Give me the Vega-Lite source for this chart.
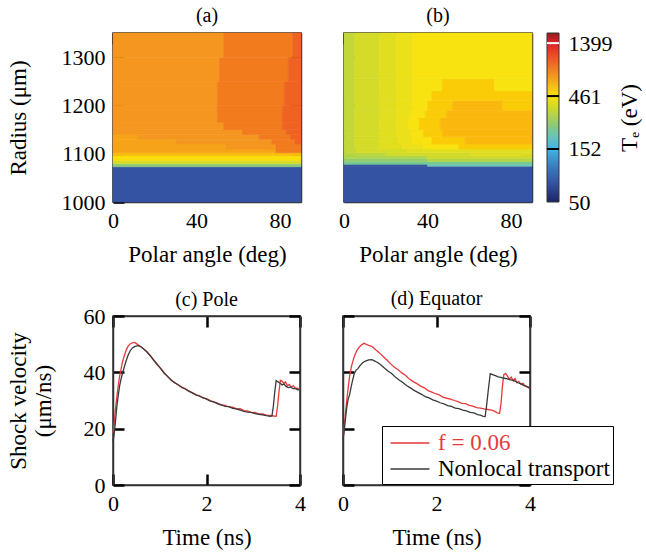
{
  "$schema": "https://vega.github.io/schema/vega-lite/v6.json",
  "background": "white",
  "padding": {"left": 6, "top": 5, "right": 2, "bottom": 2},
  "spacing": 21,
  "config": {
    "font": "Liberation Serif",
    "view": {"stroke": "#333", "strokeWidth": 1.5},
    "axis": {
      "labelFont": "Liberation Serif", "titleFont": "Liberation Serif",
      "labelFontSize": 22, "titleFontSize": 23, "titleFontWeight": "normal",
      "labelColor": "black", "titleColor": "black",
      "tickColor": "black", "tickWidth": 2.5, "tickSize": -11,
      "labelPadding": 19, "labelFlush": false, "labelOverlap": false,
      "domain": true, "domainColor": "#333", "domainWidth": 1.5,
      "grid": false, "zindex": 1, "titlePadding": 12
    },
    "title": {"font": "Liberation Serif", "fontSize": 20, "fontWeight": "normal", "color": "black", "offset": 6, "frame": "group"}
  },
  "datasets": {
    "heatA": [
      {"a0":0,"a1":90,"r0":1000,"r1":1073,"T":75},
      {"a0":0,"a1":90,"r0":1073,"r1":1079,"T":250},
      {"a0":0,"a1":90,"r0":1079,"r1":1086,"T":380},
      {"a0":0,"a1":90,"r0":1086,"r1":1096,"T":470},
      {"a0":0,"a1":90,"r0":1096,"r1":1102,"T":560},
      {"a0":0,"a1":78,"r0":1102,"r1":1110,"T":650},
      {"a0":78,"a1":90,"r0":1102,"r1":1110,"T":830},
      {"a0":0,"a1":54,"r0":1110,"r1":1120,"T":650},
      {"a0":54,"a1":78,"r0":1110,"r1":1120,"T":700},
      {"a0":78,"a1":90,"r0":1110,"r1":1120,"T":830},
      {"a0":0,"a1":30,"r0":1120,"r1":1130,"T":650},
      {"a0":30,"a1":76,"r0":1120,"r1":1130,"T":700},
      {"a0":76,"a1":87,"r0":1120,"r1":1130,"T":830},
      {"a0":87,"a1":90,"r0":1120,"r1":1130,"T":950},
      {"a0":0,"a1":12,"r0":1130,"r1":1140,"T":650},
      {"a0":12,"a1":70,"r0":1130,"r1":1140,"T":700},
      {"a0":70,"a1":85,"r0":1130,"r1":1140,"T":830},
      {"a0":85,"a1":90,"r0":1130,"r1":1140,"T":950},
      {"a0":0,"a1":62,"r0":1140,"r1":1150,"T":700},
      {"a0":62,"a1":83,"r0":1140,"r1":1150,"T":830},
      {"a0":83,"a1":90,"r0":1140,"r1":1150,"T":950},
      {"a0":0,"a1":53,"r0":1150,"r1":1165,"T":700},
      {"a0":53,"a1":81,"r0":1150,"r1":1165,"T":830},
      {"a0":81,"a1":90,"r0":1150,"r1":1165,"T":950},
      {"a0":0,"a1":50,"r0":1165,"r1":1200,"T":700},
      {"a0":50,"a1":81,"r0":1165,"r1":1200,"T":830},
      {"a0":81,"a1":90,"r0":1165,"r1":1200,"T":950},
      {"a0":0,"a1":50,"r0":1200,"r1":1250,"T":700},
      {"a0":50,"a1":82,"r0":1200,"r1":1250,"T":830},
      {"a0":82,"a1":90,"r0":1200,"r1":1250,"T":950},
      {"a0":0,"a1":51,"r0":1250,"r1":1300,"T":700},
      {"a0":51,"a1":84,"r0":1250,"r1":1300,"T":830},
      {"a0":84,"a1":90,"r0":1250,"r1":1300,"T":950},
      {"a0":0,"a1":53,"r0":1300,"r1":1350,"T":700},
      {"a0":53,"a1":86,"r0":1300,"r1":1350,"T":830},
      {"a0":86,"a1":90,"r0":1300,"r1":1350,"T":950}
    ],
    "heatB": [
      {"a0":0,"a1":90,"r0":1000,"r1":1074,"T":75},
      {"a0":0,"a1":40,"r0":1074,"r1":1078,"T":75},
      {"a0":40,"a1":90,"r0":1074,"r1":1078,"T":200},
      {"a0":0,"a1":90,"r0":1078,"r1":1084,"T":230},
      {"a0":0,"a1":40,"r0":1084,"r1":1090,"T":270},
      {"a0":40,"a1":90,"r0":1084,"r1":1090,"T":320},
      {"a0":0,"a1":40,"r0":1090,"r1":1096,"T":310},
      {"a0":40,"a1":90,"r0":1090,"r1":1096,"T":360},
      {"a0":0,"a1":20,"r0":1096,"r1":1102,"T":330},
      {"a0":20,"a1":60,"r0":1096,"r1":1102,"T":370},
      {"a0":60,"a1":90,"r0":1096,"r1":1102,"T":400},
      {"a0":0,"a1":6,"r0":1102,"r1":1110,"T":340},
      {"a0":6,"a1":30,"r0":1102,"r1":1110,"T":375},
      {"a0":30,"a1":90,"r0":1102,"r1":1110,"T":405},
      {"a0":0,"a1":5,"r0":1110,"r1":1120,"T":340},
      {"a0":5,"a1":17,"r0":1110,"r1":1120,"T":375},
      {"a0":17,"a1":28,"r0":1110,"r1":1120,"T":405},
      {"a0":28,"a1":38,"r0":1110,"r1":1120,"T":430},
      {"a0":38,"a1":55,"r0":1110,"r1":1120,"T":461},
      {"a0":55,"a1":90,"r0":1110,"r1":1120,"T":520},
      {"a0":0,"a1":5,"r0":1120,"r1":1135,"T":340},
      {"a0":5,"a1":17,"r0":1120,"r1":1135,"T":375},
      {"a0":17,"a1":26,"r0":1120,"r1":1135,"T":405},
      {"a0":26,"a1":33,"r0":1120,"r1":1135,"T":430},
      {"a0":33,"a1":42,"r0":1120,"r1":1135,"T":461},
      {"a0":42,"a1":58,"r0":1120,"r1":1135,"T":520},
      {"a0":58,"a1":90,"r0":1120,"r1":1135,"T":580},
      {"a0":0,"a1":5,"r0":1135,"r1":1150,"T":340},
      {"a0":5,"a1":17,"r0":1135,"r1":1150,"T":375},
      {"a0":17,"a1":25,"r0":1135,"r1":1150,"T":405},
      {"a0":25,"a1":32,"r0":1135,"r1":1150,"T":430},
      {"a0":32,"a1":38,"r0":1135,"r1":1150,"T":461},
      {"a0":38,"a1":47,"r0":1135,"r1":1150,"T":520},
      {"a0":47,"a1":90,"r0":1135,"r1":1150,"T":580},
      {"a0":0,"a1":5,"r0":1150,"r1":1175,"T":340},
      {"a0":5,"a1":17,"r0":1150,"r1":1175,"T":375},
      {"a0":17,"a1":25,"r0":1150,"r1":1175,"T":405},
      {"a0":25,"a1":31,"r0":1150,"r1":1175,"T":430},
      {"a0":31,"a1":36,"r0":1150,"r1":1175,"T":461},
      {"a0":36,"a1":46,"r0":1150,"r1":1175,"T":520},
      {"a0":46,"a1":90,"r0":1150,"r1":1175,"T":580},
      {"a0":0,"a1":5,"r0":1175,"r1":1190,"T":340},
      {"a0":5,"a1":17,"r0":1175,"r1":1190,"T":375},
      {"a0":17,"a1":25,"r0":1175,"r1":1190,"T":405},
      {"a0":25,"a1":32,"r0":1175,"r1":1190,"T":430},
      {"a0":32,"a1":39,"r0":1175,"r1":1190,"T":461},
      {"a0":39,"a1":49,"r0":1175,"r1":1190,"T":520},
      {"a0":49,"a1":90,"r0":1175,"r1":1190,"T":580},
      {"a0":0,"a1":5,"r0":1190,"r1":1210,"T":340},
      {"a0":5,"a1":17,"r0":1190,"r1":1210,"T":375},
      {"a0":17,"a1":25,"r0":1190,"r1":1210,"T":405},
      {"a0":25,"a1":33,"r0":1190,"r1":1210,"T":430},
      {"a0":33,"a1":40,"r0":1190,"r1":1210,"T":461},
      {"a0":40,"a1":52,"r0":1190,"r1":1210,"T":520},
      {"a0":52,"a1":76,"r0":1190,"r1":1210,"T":580},
      {"a0":76,"a1":90,"r0":1190,"r1":1210,"T":520},
      {"a0":0,"a1":5,"r0":1210,"r1":1230,"T":340},
      {"a0":5,"a1":17,"r0":1210,"r1":1230,"T":375},
      {"a0":17,"a1":25,"r0":1210,"r1":1230,"T":405},
      {"a0":25,"a1":33,"r0":1210,"r1":1230,"T":430},
      {"a0":33,"a1":42,"r0":1210,"r1":1230,"T":461},
      {"a0":42,"a1":90,"r0":1210,"r1":1230,"T":520},
      {"a0":0,"a1":5,"r0":1230,"r1":1255,"T":340},
      {"a0":5,"a1":17,"r0":1230,"r1":1255,"T":375},
      {"a0":17,"a1":25,"r0":1230,"r1":1255,"T":405},
      {"a0":25,"a1":33,"r0":1230,"r1":1255,"T":430},
      {"a0":33,"a1":47,"r0":1230,"r1":1255,"T":461},
      {"a0":47,"a1":72,"r0":1230,"r1":1255,"T":520},
      {"a0":72,"a1":90,"r0":1230,"r1":1255,"T":461},
      {"a0":0,"a1":5,"r0":1255,"r1":1350,"T":340},
      {"a0":5,"a1":17,"r0":1255,"r1":1350,"T":375},
      {"a0":17,"a1":25,"r0":1255,"r1":1350,"T":405},
      {"a0":25,"a1":33,"r0":1255,"r1":1350,"T":430},
      {"a0":33,"a1":90,"r0":1255,"r1":1350,"T":461}
    ],
    "lineC": [
      {"model":"f = 0.06","t":0,"v":18.5},{"model":"f = 0.06","t":0.02,"v":21},{"model":"f = 0.06","t":0.05,"v":26.5},{"model":"f = 0.06","t":0.08,"v":31},{"model":"f = 0.06","t":0.11,"v":35},{"model":"f = 0.06","t":0.14,"v":38.5},{"model":"f = 0.06","t":0.17,"v":41},{"model":"f = 0.06","t":0.2,"v":43.5},{"model":"f = 0.06","t":0.24,"v":45.8},{"model":"f = 0.06","t":0.28,"v":47.8},{"model":"f = 0.06","t":0.32,"v":49.2},{"model":"f = 0.06","t":0.36,"v":50.0},{"model":"f = 0.06","t":0.41,"v":50.5},{"model":"f = 0.06","t":0.46,"v":50.6},{"model":"f = 0.06","t":0.5,"v":50.2},{"model":"f = 0.06","t":0.55,"v":49.6},{"model":"f = 0.06","t":0.6,"v":49.0},{"model":"f = 0.06","t":0.66,"v":48.3},{"model":"f = 0.06","t":0.72,"v":47.3},{"model":"f = 0.06","t":0.8,"v":45.8},{"model":"f = 0.06","t":0.88,"v":44.2},{"model":"f = 0.06","t":0.95,"v":42.6},{"model":"f = 0.06","t":1.02,"v":41.4},{"model":"f = 0.06","t":1.1,"v":39.8},{"model":"f = 0.06","t":1.18,"v":38.2},{"model":"f = 0.06","t":1.25,"v":37.3},{"model":"f = 0.06","t":1.32,"v":36.2},{"model":"f = 0.06","t":1.4,"v":35.6},{"model":"f = 0.06","t":1.48,"v":34.5},{"model":"f = 0.06","t":1.55,"v":34.2},{"model":"f = 0.06","t":1.62,"v":33.2},{"model":"f = 0.06","t":1.7,"v":32.8},{"model":"f = 0.06","t":1.78,"v":31.9},{"model":"f = 0.06","t":1.85,"v":31.7},{"model":"f = 0.06","t":1.92,"v":30.9},{"model":"f = 0.06","t":2.0,"v":30.7},{"model":"f = 0.06","t":2.08,"v":30.0},{"model":"f = 0.06","t":2.16,"v":29.4},{"model":"f = 0.06","t":2.24,"v":29.1},{"model":"f = 0.06","t":2.32,"v":28.4},{"model":"f = 0.06","t":2.4,"v":28.3},{"model":"f = 0.06","t":2.48,"v":27.7},{"model":"f = 0.06","t":2.56,"v":27.6},{"model":"f = 0.06","t":2.64,"v":27.0},{"model":"f = 0.06","t":2.72,"v":27.1},{"model":"f = 0.06","t":2.8,"v":26.4},{"model":"f = 0.06","t":2.88,"v":26.3},{"model":"f = 0.06","t":2.96,"v":25.7},{"model":"f = 0.06","t":3.04,"v":25.8},{"model":"f = 0.06","t":3.12,"v":25.2},{"model":"f = 0.06","t":3.2,"v":25.2},{"model":"f = 0.06","t":3.28,"v":24.8},{"model":"f = 0.06","t":3.36,"v":24.7},{"model":"f = 0.06","t":3.44,"v":24.5},{"model":"f = 0.06","t":3.49,"v":24.4},{"model":"f = 0.06","t":3.52,"v":28},{"model":"f = 0.06","t":3.55,"v":33},{"model":"f = 0.06","t":3.58,"v":37.2},{"model":"f = 0.06","t":3.62,"v":36.8},{"model":"f = 0.06","t":3.65,"v":36.0},{"model":"f = 0.06","t":3.69,"v":36.6},{"model":"f = 0.06","t":3.73,"v":35.2},{"model":"f = 0.06","t":3.77,"v":35.7},{"model":"f = 0.06","t":3.81,"v":34.8},{"model":"f = 0.06","t":3.86,"v":35.2},{"model":"f = 0.06","t":3.9,"v":34.3},{"model":"f = 0.06","t":3.95,"v":34.4},{"model":"f = 0.06","t":4.0,"v":33.8},
      {"model":"Nonlocal transport","t":0,"v":15.5},{"model":"Nonlocal transport","t":0.02,"v":17.5},{"model":"Nonlocal transport","t":0.05,"v":22},{"model":"Nonlocal transport","t":0.08,"v":27.5},{"model":"Nonlocal transport","t":0.11,"v":31.5},{"model":"Nonlocal transport","t":0.14,"v":35},{"model":"Nonlocal transport","t":0.17,"v":37.5},{"model":"Nonlocal transport","t":0.2,"v":39.5},{"model":"Nonlocal transport","t":0.24,"v":41.8},{"model":"Nonlocal transport","t":0.28,"v":44},{"model":"Nonlocal transport","t":0.32,"v":46},{"model":"Nonlocal transport","t":0.36,"v":47.4},{"model":"Nonlocal transport","t":0.41,"v":48.6},{"model":"Nonlocal transport","t":0.47,"v":49.2},{"model":"Nonlocal transport","t":0.54,"v":49.5},{"model":"Nonlocal transport","t":0.6,"v":49.1},{"model":"Nonlocal transport","t":0.66,"v":48.2},{"model":"Nonlocal transport","t":0.72,"v":47.4},{"model":"Nonlocal transport","t":0.8,"v":45.9},{"model":"Nonlocal transport","t":0.88,"v":44.1},{"model":"Nonlocal transport","t":0.95,"v":42.8},{"model":"Nonlocal transport","t":1.02,"v":41.3},{"model":"Nonlocal transport","t":1.1,"v":39.6},{"model":"Nonlocal transport","t":1.18,"v":38.4},{"model":"Nonlocal transport","t":1.25,"v":37.1},{"model":"Nonlocal transport","t":1.32,"v":36.4},{"model":"Nonlocal transport","t":1.4,"v":35.4},{"model":"Nonlocal transport","t":1.48,"v":34.7},{"model":"Nonlocal transport","t":1.55,"v":34.0},{"model":"Nonlocal transport","t":1.62,"v":33.4},{"model":"Nonlocal transport","t":1.7,"v":32.6},{"model":"Nonlocal transport","t":1.78,"v":32.0},{"model":"Nonlocal transport","t":1.85,"v":31.5},{"model":"Nonlocal transport","t":1.92,"v":31.0},{"model":"Nonlocal transport","t":2.0,"v":30.5},{"model":"Nonlocal transport","t":2.08,"v":29.8},{"model":"Nonlocal transport","t":2.16,"v":29.5},{"model":"Nonlocal transport","t":2.24,"v":28.8},{"model":"Nonlocal transport","t":2.32,"v":28.4},{"model":"Nonlocal transport","t":2.4,"v":27.9},{"model":"Nonlocal transport","t":2.48,"v":27.8},{"model":"Nonlocal transport","t":2.56,"v":27.2},{"model":"Nonlocal transport","t":2.64,"v":27.0},{"model":"Nonlocal transport","t":2.72,"v":26.6},{"model":"Nonlocal transport","t":2.8,"v":26.1},{"model":"Nonlocal transport","t":2.88,"v":25.9},{"model":"Nonlocal transport","t":2.96,"v":25.8},{"model":"Nonlocal transport","t":3.04,"v":25.3},{"model":"Nonlocal transport","t":3.12,"v":25.1},{"model":"Nonlocal transport","t":3.2,"v":24.9},{"model":"Nonlocal transport","t":3.28,"v":24.6},{"model":"Nonlocal transport","t":3.36,"v":24.4},{"model":"Nonlocal transport","t":3.4,"v":24.5},{"model":"Nonlocal transport","t":3.43,"v":28},{"model":"Nonlocal transport","t":3.46,"v":33},{"model":"Nonlocal transport","t":3.49,"v":37.1},{"model":"Nonlocal transport","t":3.53,"v":36.6},{"model":"Nonlocal transport","t":3.57,"v":36.2},{"model":"Nonlocal transport","t":3.62,"v":35.5},{"model":"Nonlocal transport","t":3.66,"v":35.8},{"model":"Nonlocal transport","t":3.7,"v":35.0},{"model":"Nonlocal transport","t":3.75,"v":34.6},{"model":"Nonlocal transport","t":3.8,"v":34.8},{"model":"Nonlocal transport","t":3.85,"v":34.2},{"model":"Nonlocal transport","t":3.9,"v":34.3},{"model":"Nonlocal transport","t":3.95,"v":33.8},{"model":"Nonlocal transport","t":4.0,"v":33.8}
    ],
    "lineD": [
      {"model":"f = 0.06","t":0,"v":17},{"model":"f = 0.06","t":0.02,"v":19.5},{"model":"f = 0.06","t":0.05,"v":25},{"model":"f = 0.06","t":0.08,"v":30},{"model":"f = 0.06","t":0.11,"v":34.5},{"model":"f = 0.06","t":0.14,"v":38.5},{"model":"f = 0.06","t":0.18,"v":42},{"model":"f = 0.06","t":0.22,"v":44.5},{"model":"f = 0.06","t":0.26,"v":46.4},{"model":"f = 0.06","t":0.3,"v":47.8},{"model":"f = 0.06","t":0.35,"v":49.0},{"model":"f = 0.06","t":0.4,"v":49.8},{"model":"f = 0.06","t":0.45,"v":50.3},{"model":"f = 0.06","t":0.5,"v":49.9},{"model":"f = 0.06","t":0.55,"v":49.6},{"model":"f = 0.06","t":0.6,"v":49.3},{"model":"f = 0.06","t":0.65,"v":48.8},{"model":"f = 0.06","t":0.7,"v":48.0},{"model":"f = 0.06","t":0.78,"v":46.9},{"model":"f = 0.06","t":0.86,"v":45.6},{"model":"f = 0.06","t":0.94,"v":44.4},{"model":"f = 0.06","t":1.02,"v":43.0},{"model":"f = 0.06","t":1.1,"v":41.8},{"model":"f = 0.06","t":1.18,"v":40.9},{"model":"f = 0.06","t":1.26,"v":39.8},{"model":"f = 0.06","t":1.34,"v":38.9},{"model":"f = 0.06","t":1.42,"v":37.6},{"model":"f = 0.06","t":1.5,"v":36.7},{"model":"f = 0.06","t":1.58,"v":36.0},{"model":"f = 0.06","t":1.66,"v":35.1},{"model":"f = 0.06","t":1.74,"v":34.5},{"model":"f = 0.06","t":1.82,"v":33.5},{"model":"f = 0.06","t":1.9,"v":33.0},{"model":"f = 0.06","t":1.98,"v":32.4},{"model":"f = 0.06","t":2.06,"v":32.0},{"model":"f = 0.06","t":2.14,"v":31.2},{"model":"f = 0.06","t":2.22,"v":30.8},{"model":"f = 0.06","t":2.3,"v":30.5},{"model":"f = 0.06","t":2.38,"v":30.0},{"model":"f = 0.06","t":2.46,"v":29.6},{"model":"f = 0.06","t":2.54,"v":29.0},{"model":"f = 0.06","t":2.62,"v":28.9},{"model":"f = 0.06","t":2.7,"v":28.3},{"model":"f = 0.06","t":2.78,"v":28.0},{"model":"f = 0.06","t":2.86,"v":27.5},{"model":"f = 0.06","t":2.94,"v":27.3},{"model":"f = 0.06","t":3.02,"v":27.0},{"model":"f = 0.06","t":3.1,"v":26.8},{"model":"f = 0.06","t":3.18,"v":26.6},{"model":"f = 0.06","t":3.24,"v":26.2},{"model":"f = 0.06","t":3.3,"v":25.6},{"model":"f = 0.06","t":3.35,"v":25.4},{"model":"f = 0.06","t":3.38,"v":29},{"model":"f = 0.06","t":3.41,"v":35},{"model":"f = 0.06","t":3.44,"v":39.2},{"model":"f = 0.06","t":3.48,"v":39.6},{"model":"f = 0.06","t":3.52,"v":38.6},{"model":"f = 0.06","t":3.56,"v":37.6},{"model":"f = 0.06","t":3.6,"v":38.3},{"model":"f = 0.06","t":3.64,"v":37.0},{"model":"f = 0.06","t":3.68,"v":37.8},{"model":"f = 0.06","t":3.72,"v":36.3},{"model":"f = 0.06","t":3.76,"v":36.8},{"model":"f = 0.06","t":3.8,"v":35.8},{"model":"f = 0.06","t":3.85,"v":36.1},{"model":"f = 0.06","t":3.9,"v":35.0},{"model":"f = 0.06","t":3.95,"v":34.8},{"model":"f = 0.06","t":4.0,"v":34.3},
      {"model":"Nonlocal transport","t":0,"v":16},{"model":"Nonlocal transport","t":0.02,"v":18.5},{"model":"Nonlocal transport","t":0.05,"v":23},{"model":"Nonlocal transport","t":0.08,"v":27.5},{"model":"Nonlocal transport","t":0.11,"v":30.5},{"model":"Nonlocal transport","t":0.14,"v":32},{"model":"Nonlocal transport","t":0.17,"v":34.5},{"model":"Nonlocal transport","t":0.2,"v":36.8},{"model":"Nonlocal transport","t":0.24,"v":39.5},{"model":"Nonlocal transport","t":0.28,"v":40.8},{"model":"Nonlocal transport","t":0.32,"v":41.3},{"model":"Nonlocal transport","t":0.36,"v":42.3},{"model":"Nonlocal transport","t":0.42,"v":43.4},{"model":"Nonlocal transport","t":0.48,"v":44.0},{"model":"Nonlocal transport","t":0.55,"v":44.4},{"model":"Nonlocal transport","t":0.62,"v":44.5},{"model":"Nonlocal transport","t":0.68,"v":44.0},{"model":"Nonlocal transport","t":0.74,"v":43.5},{"model":"Nonlocal transport","t":0.8,"v":42.8},{"model":"Nonlocal transport","t":0.88,"v":41.6},{"model":"Nonlocal transport","t":0.96,"v":40.5},{"model":"Nonlocal transport","t":1.04,"v":39.6},{"model":"Nonlocal transport","t":1.12,"v":38.3},{"model":"Nonlocal transport","t":1.2,"v":37.3},{"model":"Nonlocal transport","t":1.28,"v":36.4},{"model":"Nonlocal transport","t":1.36,"v":35.3},{"model":"Nonlocal transport","t":1.44,"v":34.5},{"model":"Nonlocal transport","t":1.52,"v":33.6},{"model":"Nonlocal transport","t":1.6,"v":32.9},{"model":"Nonlocal transport","t":1.68,"v":32.2},{"model":"Nonlocal transport","t":1.76,"v":31.4},{"model":"Nonlocal transport","t":1.84,"v":30.9},{"model":"Nonlocal transport","t":1.92,"v":30.2},{"model":"Nonlocal transport","t":2.0,"v":29.8},{"model":"Nonlocal transport","t":2.08,"v":29.2},{"model":"Nonlocal transport","t":2.16,"v":28.8},{"model":"Nonlocal transport","t":2.24,"v":28.2},{"model":"Nonlocal transport","t":2.32,"v":27.9},{"model":"Nonlocal transport","t":2.4,"v":27.3},{"model":"Nonlocal transport","t":2.48,"v":27.1},{"model":"Nonlocal transport","t":2.56,"v":26.6},{"model":"Nonlocal transport","t":2.64,"v":26.3},{"model":"Nonlocal transport","t":2.72,"v":25.8},{"model":"Nonlocal transport","t":2.8,"v":25.6},{"model":"Nonlocal transport","t":2.88,"v":25.0},{"model":"Nonlocal transport","t":2.94,"v":24.8},{"model":"Nonlocal transport","t":3.0,"v":24.4},{"model":"Nonlocal transport","t":3.04,"v":24.3},{"model":"Nonlocal transport","t":3.07,"v":28},{"model":"Nonlocal transport","t":3.11,"v":34},{"model":"Nonlocal transport","t":3.15,"v":39.5},{"model":"Nonlocal transport","t":3.2,"v":39.2},{"model":"Nonlocal transport","t":3.26,"v":38.8},{"model":"Nonlocal transport","t":3.32,"v":38.4},{"model":"Nonlocal transport","t":3.38,"v":38.2},{"model":"Nonlocal transport","t":3.44,"v":37.9},{"model":"Nonlocal transport","t":3.5,"v":37.8},{"model":"Nonlocal transport","t":3.56,"v":37.4},{"model":"Nonlocal transport","t":3.62,"v":37.2},{"model":"Nonlocal transport","t":3.68,"v":36.9},{"model":"Nonlocal transport","t":3.74,"v":36.3},{"model":"Nonlocal transport","t":3.8,"v":36.0},{"model":"Nonlocal transport","t":3.86,"v":35.4},{"model":"Nonlocal transport","t":3.92,"v":35.1},{"model":"Nonlocal transport","t":4.0,"v":34.3}
    ]
  },
  "resolve": {"scale": {"stroke": "independent"}, "legend": {"stroke": "independent"}},
  "vconcat": [
    {
      "bounds": "flush",
      "spacing": 43,
      "hconcat": [
        {
          "width": 188, "height": 169,
          "title": "(a)",
          "data": {"name": "heatA"},
          "layer": [
            {
              "mark": {"type": "rect", "strokeWidth": 0.6},
              "encoding": {
                "x": {"field": "a0", "type": "quantitative", "scale": {"domain": [0, 90], "nice": false},
                      "axis": {"orient": "bottom", "values": [0, 40, 80], "title": "Polar angle (deg)", "tickColor": "white",
                               "tickOpacity": {"condition": {"test": "datum.value === 0", "value": 0}, "value": 1}}},
                "x2": {"field": "a1"},
                "y": {"field": "r0", "type": "quantitative", "scale": {"domain": [1000, 1350], "nice": false, "zero": false},
                      "axis": {"orient": "left", "values": [1000, 1100, 1200, 1300], "format": "d", "title": "Radius (μm)", "titlePadding": 31}},
                "y2": {"field": "r1"},
                "fill": {"field": "T", "type": "quantitative", "legend": null,
                         "scale": {"type": "log", "domain": [50, 75, 107, 152, 200, 250, 350, 461, 700, 1000, 1399, 1730],
                                   "range": ["#1c2566", "#3553a3", "#3a7fc2", "#42b4e6", "#6bc4b4", "#8cc97a", "#c9d82f", "#f8e20f", "#f4961f", "#ee5a24", "#e1222a", "#951b1e"]}},
                "stroke": {"field": "T", "type": "quantitative", "legend": null,
                         "scale": {"type": "log", "domain": [50, 75, 107, 152, 200, 250, 350, 461, 700, 1000, 1399, 1730],
                                   "range": ["#1c2566", "#3553a3", "#3a7fc2", "#42b4e6", "#6bc4b4", "#8cc97a", "#c9d82f", "#f8e20f", "#f4961f", "#ee5a24", "#e1222a", "#951b1e"]}}
              }
            },
            {
              "mark": {"type": "point", "opacity": 0},
              "encoding": {
                "x": {"field": "a0", "type": "quantitative", "axis": {"orient": "top", "values": [0, 40, 80], "labels": false, "title": null}},
                "y": {"field": "r0", "type": "quantitative", "axis": {"orient": "right", "values": [1100, 1200, 1300], "labels": false, "title": null}}
              }
            }
          ],
          "resolve": {"axis": {"x": "independent", "y": "independent"}}
        },
        {
          "bounds": "flush",
          "spacing": 15,
          "hconcat": [
            {
              "width": 188, "height": 169,
              "title": "(b)",
              "data": {"name": "heatB"},
              "layer": [
                {
                  "mark": {"type": "rect", "strokeWidth": 0.6},
                  "encoding": {
                    "x": {"field": "a0", "type": "quantitative", "scale": {"domain": [0, 90], "nice": false},
                          "axis": {"orient": "bottom", "values": [0, 40, 80], "title": "Polar angle (deg)", "tickColor": "white",
                                   "tickOpacity": {"condition": {"test": "datum.value === 0", "value": 0}, "value": 1}}},
                    "x2": {"field": "a1"},
                    "y": {"field": "r0", "type": "quantitative", "scale": {"domain": [1000, 1350], "nice": false, "zero": false},
                          "axis": {"orient": "left", "values": [1100, 1200, 1300], "labels": false, "title": null}},
                    "y2": {"field": "r1"},
                    "fill": {"field": "T", "type": "quantitative", "legend": null,
                             "scale": {"type": "log", "domain": [50, 75, 107, 152, 200, 250, 350, 461, 700, 1000, 1399, 1730],
                                       "range": ["#1c2566", "#3553a3", "#3a7fc2", "#42b4e6", "#6bc4b4", "#8cc97a", "#c9d82f", "#f8e20f", "#f4961f", "#ee5a24", "#e1222a", "#951b1e"]}},
                    "stroke": {"field": "T", "type": "quantitative", "legend": null,
                             "scale": {"type": "log", "domain": [50, 75, 107, 152, 200, 250, 350, 461, 700, 1000, 1399, 1730],
                                       "range": ["#1c2566", "#3553a3", "#3a7fc2", "#42b4e6", "#6bc4b4", "#8cc97a", "#c9d82f", "#f8e20f", "#f4961f", "#ee5a24", "#e1222a", "#951b1e"]}}
                  }
                },
                {
                  "mark": {"type": "point", "opacity": 0},
                  "encoding": {
                    "x": {"field": "a0", "type": "quantitative", "axis": {"orient": "top", "values": [0, 40, 80], "labels": false, "title": null}},
                    "y": {"field": "r0", "type": "quantitative", "axis": {"orient": "right", "values": [1100, 1200, 1300], "labels": false, "title": null}}
                  }
                }
              ],
              "resolve": {"axis": {"x": "independent", "y": "independent"}}
            },
            {
              "width": 12, "height": 169,
              "view": {"stroke": null},
              "layer": [
                {
                  "data": {"values": [{"lo": 50, "hi": 1730}]},
                  "mark": {"type": "rect", "stroke": "#333", "strokeWidth": 1,
                           "fill": {"gradient": "linear", "x1": 0, "y1": 1, "x2": 0, "y2": 0,
                                    "stops": [
                                      {"offset": 0, "color": "#1c2566"},
                                      {"offset": 0.1144, "color": "#3553a3"},
                                      {"offset": 0.2147, "color": "#3a7fc2"},
                                      {"offset": 0.3137, "color": "#42b4e6"},
                                      {"offset": 0.3912, "color": "#6bc4b4"},
                                      {"offset": 0.4541, "color": "#8cc97a"},
                                      {"offset": 0.5491, "color": "#c9d82f"},
                                      {"offset": 0.6268, "color": "#f8e20f"},
                                      {"offset": 0.7447, "color": "#f4961f"},
                                      {"offset": 0.8453, "color": "#ee5a24"},
                                      {"offset": 0.9401, "color": "#e1222a"},
                                      {"offset": 1, "color": "#951b1e"}
                                    ]}},
                  "encoding": {
                    "y": {"field": "lo", "type": "quantitative",
                          "scale": {"type": "log", "domain": [50, 1730], "nice": false},
                          "axis": {"orient": "right", "values": [50, 152, 461, 1399], "format": "d", "ticks": false, "tickSize": 0, "domain": false,
                                   "labelPadding": 9, "title": "Tₑ (eV)", "titleAngle": 270, "titlePadding": 29}},
                    "y2": {"field": "hi"}
                  }
                },
                {
                  "data": {"values": [{"v": 152}, {"v": 461}]},
                  "mark": {"type": "rule", "color": "black", "strokeWidth": 2},
                  "encoding": {"y": {"field": "v", "type": "quantitative"}}
                },
                {
                  "data": {"values": [{"v": 1399}]},
                  "mark": {"type": "rule", "color": "white", "strokeWidth": 2},
                  "encoding": {"y": {"field": "v", "type": "quantitative"}}
                }
              ]
            }
          ]
        }
      ]
    },
    {
      "bounds": "flush",
      "spacing": 43,
      "resolve": {"scale": {"stroke": "independent"}, "legend": {"stroke": "independent"}},
      "hconcat": [
        {
          "width": 187, "height": 169,
          "title": {"text": "(c) Pole", "offset": -5},
          "data": {"name": "lineC"},
          "layer": [
            {
              "mark": {"type": "line", "strokeWidth": 1.3},
              "encoding": {
                "x": {"field": "t", "type": "quantitative", "scale": {"domain": [0, 4], "nice": false},
                      "axis": {"orient": "bottom", "values": [0, 2, 4], "title": "Time (ns)"}},
                "y": {"field": "v", "type": "quantitative", "scale": {"domain": [0, 60], "nice": false},
                      "axis": {"orient": "left", "values": [0, 20, 40, 60], "title": ["Shock velocity", "(μm/ns)"], "titlePadding": 28, "titleLineHeight": 25}},
                "stroke": {"field": "model", "type": "nominal", "legend": null,
                           "scale": {"domain": ["f = 0.06", "Nonlocal transport"], "range": ["#e53a3d", "#3a3a3a"]}}
              }
            },
            {
              "mark": {"type": "point", "opacity": 0},
              "encoding": {
                "x": {"field": "t", "type": "quantitative", "axis": {"orient": "top", "values": [0, 2, 4], "labels": false, "title": null}},
                "y": {"field": "v", "type": "quantitative", "axis": {"orient": "right", "values": [0, 20, 40, 60], "labels": false, "title": null}}
              }
            }
          ],
          "resolve": {"axis": {"x": "independent", "y": "independent"}}
        },
        {
          "width": 187, "height": 169,
          "title": "(d) Equator",
          "data": {"name": "lineD"},
          "layer": [
            {
              "mark": {"type": "line", "strokeWidth": 1.3},
              "encoding": {
                "x": {"field": "t", "type": "quantitative", "scale": {"domain": [0, 4], "nice": false},
                      "axis": {"orient": "bottom", "values": [0, 2, 4], "title": "Time (ns)"}},
                "y": {"field": "v", "type": "quantitative", "scale": {"domain": [0, 60], "nice": false},
                      "axis": {"orient": "left", "values": [0, 20, 40, 60], "labels": false, "title": null}},
                "stroke": {"field": "model", "type": "nominal",
                           "scale": {"domain": ["f = 0.06", "Nonlocal transport"], "range": ["#e53a3d", "#3a3a3a"]},
                           "legend": {"orient": "none", "legendX": 39, "legendY": 110, "title": null,
                                      "symbolType": "M-1.5,0H1.5", "symbolStrokeWidth": 1.5, "symbolSize": 676, "symbolOffset": 11,
                                      "labelFont": "Liberation Serif", "labelFontSize": 23, "labelOffset": 14, "labelLimit": 400,
                                      "strokeColor": "black", "fillColor": "white", "padding": 3, "rowPadding": 0,
                                      "labelColor": {"expr": "datum.label === 'f = 0.06' ? '#e53a3d' : 'black'"}}}
              }
            },
            {
              "mark": {"type": "point", "opacity": 0},
              "encoding": {
                "x": {"field": "t", "type": "quantitative", "axis": {"orient": "top", "values": [0, 2, 4], "labels": false, "title": null}},
                "y": {"field": "v", "type": "quantitative", "axis": {"orient": "right", "values": [0, 20, 40, 60], "labels": false, "title": null}}
              }
            }
          ],
          "resolve": {"axis": {"x": "independent", "y": "independent"}}
        }
      ]
    }
  ]
}
